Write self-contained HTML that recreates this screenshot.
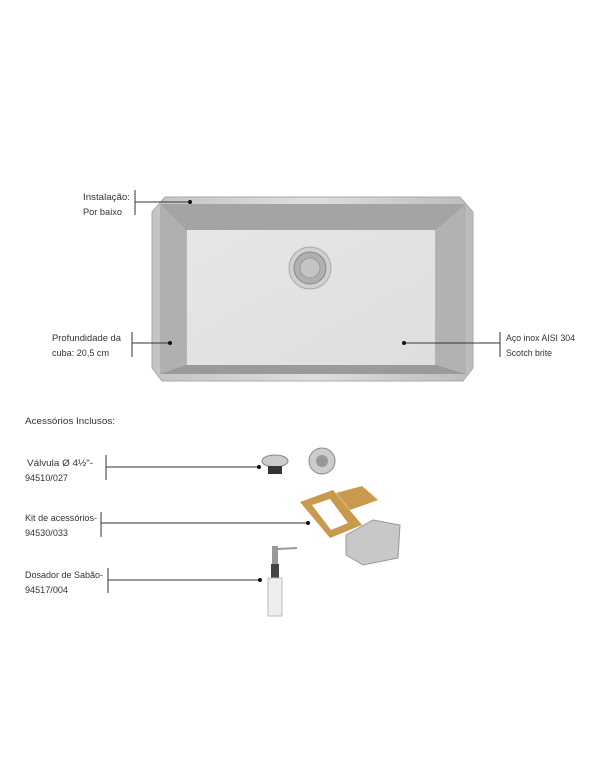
<!DOCTYPE html>
<html><head><meta charset="utf-8"><style>
body{margin:0;background:#fff;width:600px;height:770px;overflow:hidden}
svg{display:block}
text{font-family:"Liberation Sans",sans-serif;font-size:9.5px;fill:#333}
</style></head><body>
<svg width="600" height="770" viewBox="0 0 600 770">
<defs>
<linearGradient id="rim" x1="0" y1="0" x2="1" y2="0"><stop offset="0" stop-color="#c4c4c4"/><stop offset="0.5" stop-color="#dedede"/><stop offset="1" stop-color="#bcbcbc"/></linearGradient>
<linearGradient id="floor" x1="0" y1="0" x2="1" y2="1"><stop offset="0" stop-color="#e6e6e6"/><stop offset="1" stop-color="#dedede"/></linearGradient>
</defs>
<polygon points="165,197 460,197 473,212 473,368 463,381 162,381 152,368 152,212" fill="url(#rim)" stroke="#aaa" stroke-width="1"/>
<rect x="160" y="204" width="306" height="170" fill="#b4b4b4"/>
<polygon points="160,204 466,204 436,230 186,230" fill="#a4a4a4"/>
<polygon points="160,204 186,230 186,365 160,374" fill="#b0b0b0"/>
<polygon points="466,204 436,230 436,365 466,374" fill="#b2b2b2"/>
<polygon points="186,365 436,365 466,374 160,374" fill="#9a9a9a"/>
<rect x="187" y="230" width="248" height="135" fill="url(#floor)"/>
<circle cx="310" cy="268" r="21" fill="#d0d0d0" stroke="#aaa"/>
<circle cx="310" cy="268" r="16" fill="#b0b0b0" stroke="#888"/>
<circle cx="310" cy="268" r="10" fill="#c4c4c4" stroke="#999"/>
<text x="83" y="200" textLength="47" lengthAdjust="spacingAndGlyphs">Instalação:</text><text x="83" y="215" textLength="39" lengthAdjust="spacingAndGlyphs">Por baixo</text>
<line x1="135" y1="190" x2="135" y2="215" stroke="#333"/>
<line x1="135" y1="202" x2="190" y2="202" stroke="#333"/><circle cx="190" cy="202" r="2" fill="#111"/>
<text x="52" y="341" textLength="69" lengthAdjust="spacingAndGlyphs">Profundidade da</text><text x="52" y="356" textLength="57" lengthAdjust="spacingAndGlyphs">cuba: 20,5 cm</text>
<line x1="132" y1="332" x2="132" y2="357" stroke="#333"/>
<line x1="132" y1="343" x2="170" y2="343" stroke="#333"/><circle cx="170" cy="343" r="2" fill="#111"/>
<text x="506" y="341" textLength="69" lengthAdjust="spacingAndGlyphs">Aço inox AISI 304</text><text x="506" y="356" textLength="46" lengthAdjust="spacingAndGlyphs">Scotch brite</text>
<line x1="500" y1="332" x2="500" y2="357" stroke="#333"/>
<line x1="404" y1="343" x2="500" y2="343" stroke="#333"/><circle cx="404" cy="343" r="2" fill="#111"/>
<text x="25" y="424" textLength="90" lengthAdjust="spacingAndGlyphs">Acessórios Inclusos:</text>
<text x="27" y="466" textLength="66" lengthAdjust="spacingAndGlyphs">Válvula  Ø 4½"-</text><text x="25" y="481" textLength="43" lengthAdjust="spacingAndGlyphs">94510/027</text>
<line x1="106" y1="455" x2="106" y2="480" stroke="#333"/>
<line x1="106" y1="467" x2="259" y2="467" stroke="#333"/><circle cx="259" cy="467" r="2" fill="#111"/>
<ellipse cx="275" cy="461" rx="13" ry="6" fill="#ccc" stroke="#888"/>
<rect x="268" y="466" width="14" height="8" fill="#333"/>
<circle cx="322" cy="461" r="13" fill="#ccc" stroke="#888"/><circle cx="322" cy="461" r="6" fill="#999"/>
<text x="25" y="521" textLength="72" lengthAdjust="spacingAndGlyphs">Kit de acessórios-</text><text x="25" y="536" textLength="43" lengthAdjust="spacingAndGlyphs">94530/033</text>
<line x1="101" y1="512" x2="101" y2="537" stroke="#333"/>
<line x1="101" y1="523" x2="308" y2="523" stroke="#333"/><circle cx="308" cy="523" r="2" fill="#111"/>
<polygon points="300,502 333,490 362,525 330,538" fill="#c9994e"/>
<polygon points="312,505 330,499 348,523 331,530" fill="#fff"/>
<polygon points="336,493 362,486 378,500 350,510" fill="#c9994e"/>
<polygon points="346,535 373,520 400,525 398,558 363,565 346,555" fill="#c8c8c8" stroke="#999"/>
<text x="25" y="578" textLength="78" lengthAdjust="spacingAndGlyphs">Dosador de Sabão-</text><text x="25" y="593" textLength="43" lengthAdjust="spacingAndGlyphs">94517/004</text>
<line x1="108" y1="568" x2="108" y2="593" stroke="#333"/>
<line x1="108" y1="580" x2="260" y2="580" stroke="#333"/><circle cx="260" cy="580" r="2" fill="#111"/>
<rect x="272" y="546" width="6" height="18" fill="#999"/>
<line x1="278" y1="549" x2="297" y2="548" stroke="#999" stroke-width="2"/>
<rect x="271" y="564" width="8" height="14" fill="#444"/>
<rect x="268" y="578" width="14" height="38" fill="#eee" stroke="#bbb"/>
</svg>
</body></html>
